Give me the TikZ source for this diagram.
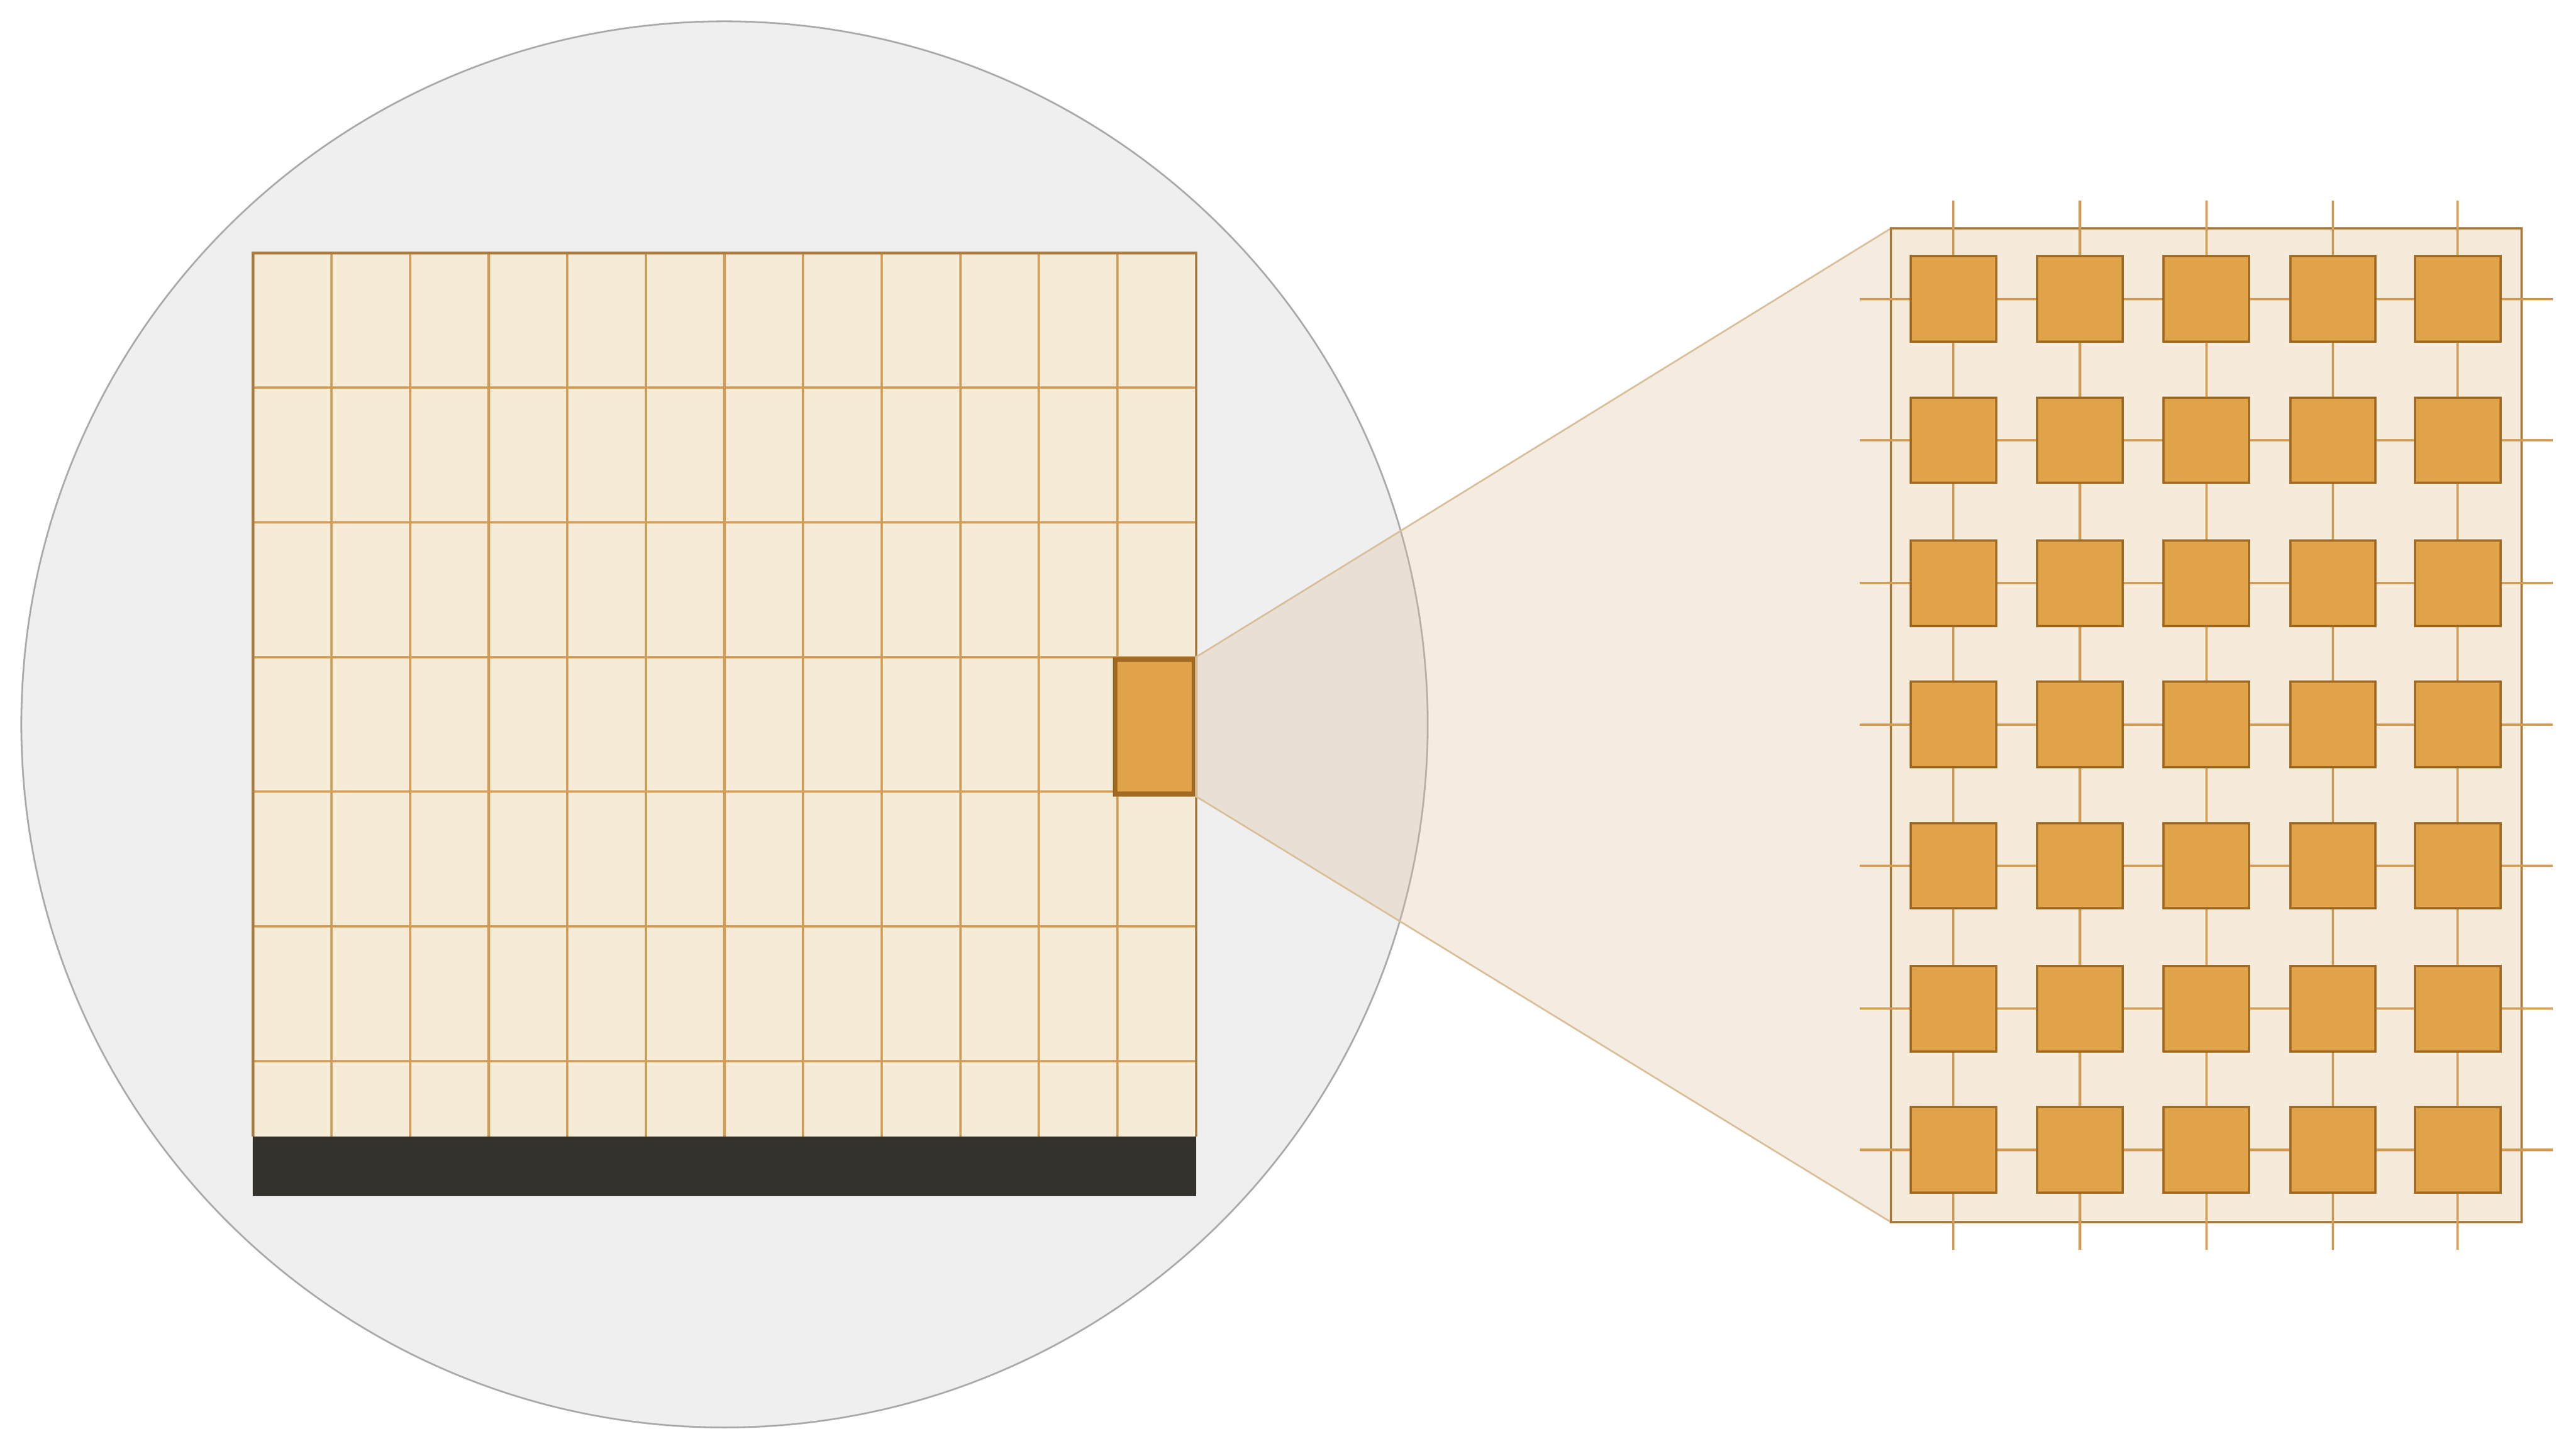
\documentclass[tikz,border=0pt]{standalone}
\usetikzlibrary{positioning}
\definecolor{lensgray}{HTML}{EFEFEF}
\definecolor{rimgray}{HTML}{AAAAAA}
\definecolor{wafercream}{HTML}{F5EBD7}
\definecolor{panelcream}{HTML}{F6EBDA}
\definecolor{gridtan}{HTML}{D39C55}
\definecolor{basedark}{HTML}{33322C}
\definecolor{padorange}{HTML}{E1A34A}
\definecolor{padbrown}{HTML}{A06A22}
\definecolor{conetan}{HTML}{D9BF9A}
\begin{document}
\begin{tikzpicture}[x=0.02cm,y=-0.02cm]
    \useasboundingbox (0,0) rectangle (1568,883);
    % Lens
    \draw[rimgray, fill=lensgray, line width=0.6pt] (441,441) circle (428);

    % Wafer grid
    \fill[wafercream] (154,154) rectangle (728,692);
    \foreach \i in {1,...,11} {
        \draw[gridtan, line width=0.8pt] (154+\i*47.83,154) -- (154+\i*47.83,692);
    }
    \foreach \y in {236,318,400,482,564,646} {
        \draw[gridtan, line width=0.8pt] (154,\y) -- (728,\y);
    }
    \draw[gridtan!80!black, line width=0.8pt] (154,692) -- (154,154) -- (728,154) -- (728,692);
    \fill[basedark] (154,692) rectangle (728,728);

    % Picked cell
    \node[draw=padbrown, line width=1.6pt, fill=padorange, minimum width=47.8*0.02cm,
          minimum height=82*0.02cm, inner sep=0pt, anchor=north east] (cell) at (728,400) {};

    % Zoom cone
    \coordinate (ztop) at (1151,139);
    \coordinate (zbot) at (1151,744);
    \filldraw[draw=conetan, fill=conetan, fill opacity=0.3, line width=0.6pt]
        (cell.north east) -- (ztop) -- (zbot) -- (cell.south east) -- cycle;

    % Zoomed panel
    \draw[padbrown!90, fill=panelcream, line width=0.8pt] (1151,139) rectangle (1535,744);
    \foreach \x in {1189,1266,1343,1420,1496} {
        \draw[gridtan, line width=0.8pt] (\x,122) -- (\x,761);
    }
    \foreach \y in {182,268,355,441,527,614,700} {
        \draw[gridtan, line width=0.8pt] (1132,\y) -- (1554,\y);
    }
    \foreach \x in {1189,1266,1343,1420,1496} {
        \foreach \y in {182,268,355,441,527,614,700} {
            \draw[padbrown, fill=padorange, line width=0.8pt] (\x-26,\y-26) rectangle (\x+26,\y+26);
        }
    }
\end{tikzpicture}
\end{document}
